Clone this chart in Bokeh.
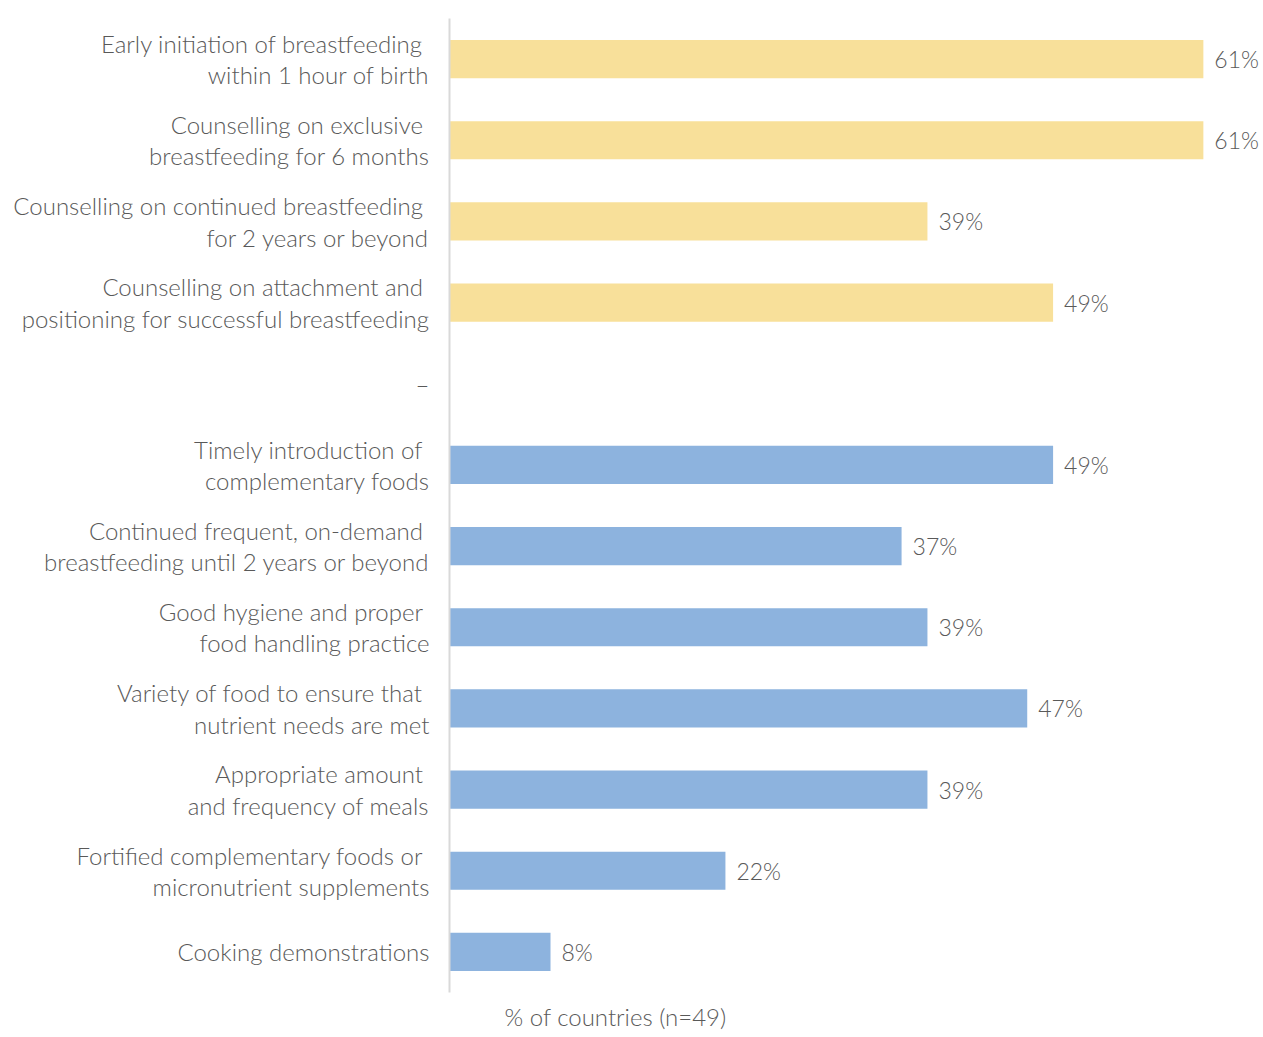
from bokeh.plotting import figure
from bokeh.models import ColumnDataSource, FactorRange, Title
from bokeh.core.properties import value
from bokeh.embed import file_html
from bokeh.resources import INLINE

categories = [
    "Early initiation of breastfeeding \nwithin 1 hour of birth",
    "Counselling on exclusive \nbreastfeeding for 6 months",
    "Counselling on continued breastfeeding \nfor 2 years or beyond",
    "Counselling on attachment and \npositioning for successful breastfeeding",
    "–",
    "Timely introduction of \ncomplementary foods",
    "Continued frequent, on-demand \nbreastfeeding until 2 years or beyond",
    "Good hygiene and proper \nfood handling practice",
    "Variety of food to ensure that \nnutrient needs are met",
    "Appropriate amount \nand frequency of meals",
    "Fortified complementary foods or \nmicronutrient supplements",
    "Cooking demonstrations",
]
values = [61.2, 61.2, 38.8, 49.0, None, 49.0, 36.7, 38.8, 46.9, 38.8, 22.4, 8.2]
labels = ["61%", "61%", "39%", "49%", "", "49%", "37%", "39%", "47%", "39%", "22%", "8%"]
groups = ["bf", "bf", "bf", "bf", "", "cf", "cf", "cf", "cf", "cf", "cf", "cf"]
x_title = "% of countries (n=49)"

colors = {"bf": "#F8E09A", "cf": "#8DB3DE"}
FONT = "Lato Light"
TXT = "#595959"

rows = [i for i, v in enumerate(values) if v is not None]
src = ColumnDataSource(dict(
    cat=[categories[i] for i in rows],
    val=[values[i] for i in rows],
    lab=[labels[i] for i in rows],
    col=[colors[groups[i]] for i in rows],
))

p = figure(
    width=1262, height=1037,
    y_range=FactorRange(factors=list(reversed(categories)), range_padding=0),
    x_range=(0, 66.0),
    output_backend="svg", toolbar_location=None,
    min_border_left=449, min_border_right=0, min_border_top=18, min_border_bottom=44,
)
p.hbar(y="cat", right="val", left=0, height=0.47, color="col", line_color=None, source=src)
p.text(x="val", y="cat", text="lab", source=src, x_offset=11, text_baseline="middle",
       text_align="left", text_font=value(FONT), text_font_size="23px", text_color=TXT)

p.xaxis.visible = False
p.xgrid.visible = False
p.ygrid.visible = False
p.outline_line_color = None
p.background_fill_color = "white"
p.border_fill_color = "white"

ya = p.yaxis[0]
ya.axis_line_color = "#D9D9D9"
ya.axis_line_width = 2
ya.major_tick_line_color = None
ya.minor_tick_line_color = None
ya.major_label_standoff = 14
ya.major_label_text_font = FONT
ya.major_label_text_font_size = "24px"
ya.major_label_text_line_height = 1.08
ya.major_label_text_color = TXT

t = Title(text=x_title, align="left", offset=55, text_font=FONT, text_font_size="24px",
          text_color=TXT, text_font_style="normal", standoff=14)
p.add_layout(t, "below")

open("out.html", "w").write(file_html(p, INLINE))
